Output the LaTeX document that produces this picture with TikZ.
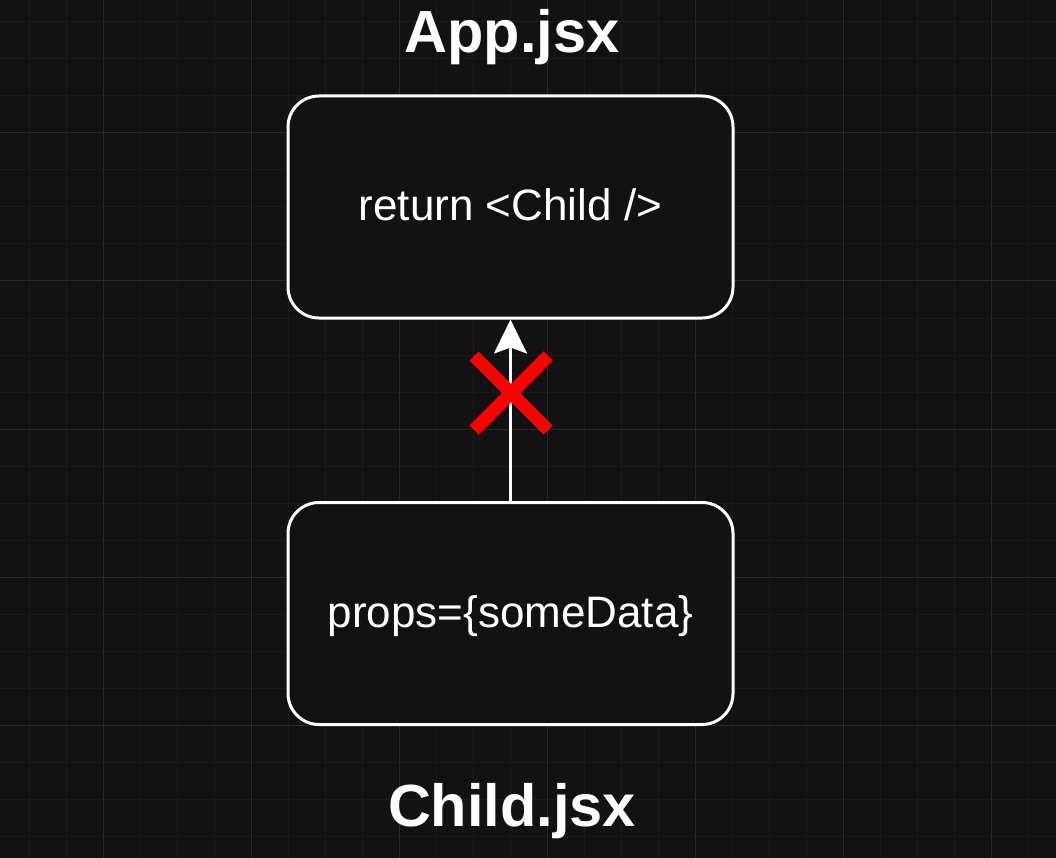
\documentclass[tikz,border=0pt]{standalone}
\usepackage{fontspec}
\setmainfont{Liberation Sans}
\usetikzlibrary{arrows.meta}
\definecolor{bgc}{HTML}{121212}
\definecolor{minorc}{HTML}{1B1B1B}
\definecolor{majorc}{HTML}{2A2A2A}
\definecolor{xred}{HTML}{FF0000}
\newcommand{\boxtext}[1]{\raisebox{-14pt}[0pt][0pt]{#1}}
\tikzset{
  x=1pt, y=-1pt,
  codebox/.style={draw=white, line width=3pt, fill=bgc, rounded corners=31pt,
    minimum width=445pt, minimum height=222pt, inner sep=0pt, text=white,
    font=\fontsize{44}{50}\selectfont},
  titletext/.style={text=white, font=\fontsize{59.5}{66}\selectfont\bfseries, inner sep=0pt, anchor=base},
  crossline/.style={draw=xred, line width=13pt},
  linkarrow/.style={draw=white, line width=2.5pt, -{Stealth[length=34pt,width=33pt,inset=6pt]}}
}
\begin{document}
\begin{tikzpicture}
\useasboundingbox (0,0) rectangle (1056,858);
\fill[bgc] (0,0) rectangle (1056,858);
% grid
\foreach \i in {0,...,28} {
  \pgfmathsetmacro{\gx}{29+37*\i}
  \draw[minorc, line width=1pt] (\gx,0) -- (\gx,858);
}
\foreach \i in {0,...,23} {
  \pgfmathsetmacro{\gy}{22+37*\i}
  \draw[minorc, line width=1pt] (0,\gy) -- (1056,\gy);
}
\foreach \i in {0,...,7} {
  \pgfmathsetmacro{\gx}{103+148*\i}
  \draw[majorc, line width=1pt] (\gx,0) -- (\gx,858);
}
\foreach \i in {0,...,5} {
  \pgfmathsetmacro{\gy}{133+148*\i}
  \draw[majorc, line width=1pt] (0,\gy) -- (1056,\gy);
}
\node[codebox] (app) at (510.5,207) {\boxtext{return <Child />}};
\node[codebox] (child) at (510.5,613.5) {\boxtext{props=\{someData\}}};
\node[titletext] (apptitle) at (512,53) {App.jsx};
\node[titletext] (childtitle) at (512,826) {Child.jsx};
\draw[linkarrow] (child.north) -- (app.south);
\coordinate (xa) at (474,356);
\coordinate (xb) at (548,430);
\coordinate (xc) at (548,356);
\coordinate (xd) at (474,430);
\draw[crossline] (xa) -- (xb);
\draw[crossline] (xc) -- (xd);
\end{tikzpicture}
\end{document}
